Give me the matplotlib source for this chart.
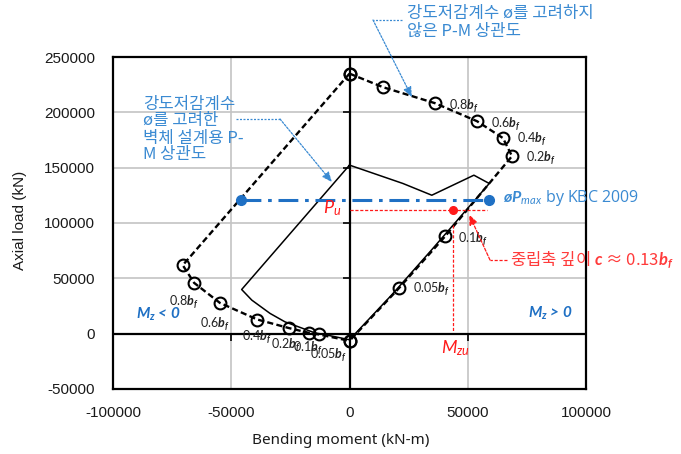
import numpy as np
import matplotlib
matplotlib.use("Agg")
import matplotlib.pyplot as plt
from matplotlib.lines import Line2D

plt.rcParams['mathtext.fontset'] = 'custom'
plt.rcParams['mathtext.rm'] = 'Lato'
plt.rcParams['mathtext.it'] = 'Lato:italic'
plt.rcParams['mathtext.bf'] = 'Lato:bold'
plt.rcParams['mathtext.bfit'] = 'Lato:italic:bold'
plt.rcParams['axes.unicode_minus'] = False

# ---- data -------------------------------------------------------------
# nominal P-M interaction curve (no strength reduction), Po -> pure tension
pos_M = [0, 14200, 36100, 53900, 64900, 68700, 40400, 20900, 0]
pos_P = [235000, 222700, 208300, 192000, 176700, 160400, 87900, 41100, -6500]
neg_M = [0, -70500, -65700, -54800, -39000, -25500, -17100, -12900, 0]
neg_P = [235000, 61900, 45900, 27800, 12800, 5000, 700, -700, -6500]
# neutral-axis depth labels for points 2..7 on each branch
depth_labels = ["0.8", "0.6", "0.4", "0.2", "0.1", "0.05"]

# design interaction curve (with strength reduction factor)
design_M = [0, 22600, 34800, 52600, 59100, 34300, 17800, 0,
            -11000, -14500, -27300, -33600, -41300, -45600, 0]
design_P = [152300, 135700, 125100, 143200, 135700, 74700, 34900, -5500,
            -600, 600, 10700, 18300, 30300, 39900, 152300]

# phi*Pmax by KBC 2009
phi_pmax = 121200
phi_pmax_M = [-45900, 59000]

# factored load point
Mzu = 43600
Pu = 111500
pu_guide_M = [0, 58000]
mzu_guide_P = [98000, 2000]

xticks = [-100000, -50000, 0, 50000, 100000]
yticks = [-50000, 0, 50000, 100000, 150000, 200000, 250000]

# ---- figure -----------------------------------------------------------
W, H = 681, 454
fig = plt.figure(figsize=(W / 100, H / 100), dpi=100)
L, R, T, B = 113, 586, 57, 389
ax = fig.add_axes([L / W, 1 - B / H, (R - L) / W, (B - T) / H])
ax.set_xlim(-100000, 100000)
ax.set_ylim(-50000, 250000)

def fpx(x, y):
    """figure-pixel position measured from the top-left corner"""
    return (x / W, 1 - y / H)

KR = ['Noto Sans CJK KR', 'DejaVu Sans']
BLUE_TXT = '#3a8ad2'
BLUE = '#1f70c4'
RED = '#ff1a1a'
RED_TXT = '#ff3b3b'

# grid, frame, zero axes
ax.set_xticks(xticks)
ax.set_yticks(yticks)
ax.grid(True, color='#c4c4c4', lw=1.2, zorder=0)
ax.set_axisbelow(True)
for s in ax.spines.values():
    s.set_linewidth(1.6)
    s.set_color('black')
ax.tick_params(length=0, labelsize=11, colors='#1a1a1a')
ax.tick_params(axis='x', pad=12)
ax.tick_params(axis='y', pad=13)
for lab in ax.get_xticklabels() + ax.get_yticklabels():
    lab.set_family('Liberation Sans')
ax.axhline(0, color='black', lw=1.6, zorder=1)
ax.axvline(0, color='black', lw=1.6, zorder=1)
ax.plot(np.zeros(len(yticks)), yticks, ls='none', marker=0, ms=5, mew=1.2,
        color='black', clip_on=False, zorder=1)
ax.plot(xticks, np.zeros(len(xticks)), ls='none', marker=3, ms=5, mew=1.2,
        color='black', clip_on=False, zorder=1)

ax.set_xlabel('Bending moment (kN-m)', fontsize=11, family='Noto Sans', color='#1a1a1a')
ax.xaxis.set_label_coords((341 - L) / (R - L), (B - 440) / (B - T))
ax.xaxis.label.set_va('center')
ax.set_ylabel('Axial load (kN)', fontsize=11, family='Liberation Sans', color='#1a1a1a')
ax.yaxis.set_label_coords((20 - L) / (R - L), (B - 220) / (B - T))
ax.yaxis.label.set_va('center')

# design curve
ax.plot(design_M, design_P, color='black', lw=1.1, zorder=3)

# nominal curve with open circles
for M, P in ((pos_M, pos_P), (neg_M, neg_P)):
    ax.plot(M, P, color='black', lw=1.7, dashes=(2.6, 1.4), marker='o', ms=8.5,
            mfc='none', mec='black', mew=1.5, zorder=4)

pos_off = [(14, -3), (14, -2), (14, -1), (14, -1), (13, -2), (14, 0)]
neg_off = [(-25, -19), (-20, -21), (-15, -17), (-18, -17), (-16, -15), (-9, -20)]
for i, lab in enumerate(depth_labels):
    txt = lab + r'$\mathbfit{b}_{\mathbfit{f}}$'
    ax.annotate(txt, (pos_M[i + 2], pos_P[i + 2]), xytext=pos_off[i],
                textcoords='offset pixels', ha='left', va='center',
                fontsize=9, family='Lato', color='#222222', zorder=6)
    ax.annotate(txt, (neg_M[i + 2], neg_P[i + 2]), xytext=neg_off[i],
                textcoords='offset pixels', ha='left', va='center',
                fontsize=9, family='Lato', color='#222222', zorder=6)

# phi*Pmax line
ax.plot(phi_pmax_M, [phi_pmax, phi_pmax], color=BLUE, lw=2.2,
        dashes=(6.5, 2.2, 1.2, 2.2), zorder=5)
ax.plot(phi_pmax_M, [phi_pmax, phi_pmax], ls='none', marker='o', ms=7,
        color=BLUE, zorder=5)
fig.text(*fpx(503, 198), r'$\mathbfit{øP}_{\mathit{max}}$ by KBC 2009',
         fontsize=11.5, family='Open Sans', color=BLUE_TXT, ha='left', va='center')

# factored load and guides
ax.plot(pu_guide_M, [Pu, Pu], color=RED, lw=0.9, dashes=(2.5, 1.4), zorder=5)
ax.plot([Mzu, Mzu], mzu_guide_P, color=RED, lw=0.9, dashes=(2.5, 1.4), zorder=5)
ax.plot([Mzu], [Pu], ls='none', marker='o', ms=5.5, color=RED, zorder=6)
fig.text(*fpx(332, 208), r'$\mathit{P_u}$', fontsize=13, family='Lato',
         color=RED, ha='center', va='center')
fig.text(*fpx(456, 348), r'$\mathit{M_{zu}}$', fontsize=13, family='Lato',
         color=RED, ha='center', va='center')

# moment sign labels
fig.text(*fpx(136, 314), r'$\mathbfit{M}_{\mathbfit{z}}$ < 0', fontsize=11,
         family='Lato', weight='bold', style='italic', color=BLUE, ha='left', va='center')
fig.text(*fpx(528, 313), r'$\mathbfit{M}_{\mathbfit{z}}$ > 0', fontsize=11,
         family='Lato', weight='bold', style='italic', color=BLUE, ha='left', va='center')

# callouts: a short horizontal leader from the text, then an arrow to the curve
def callout(start, elbow, tip_data, color, ls):
    sx, sy = start
    ex, ey = elbow
    fig.add_artist(Line2D([sx / W, ex / W], [1 - sy / H, 1 - ey / H],
                          transform=fig.transFigure, color=color, lw=0.9, ls=ls))
    ax.annotate('', xy=tip_data, xytext=(ex, H - ey), textcoords='figure pixels',
                annotation_clip=False,
                arrowprops=dict(arrowstyle='-|>,head_length=0.6,head_width=0.25',
                                color=color, lw=0.9, ls=ls, shrinkA=0, shrinkB=0),
                zorder=7)

callout((402, 20), (373, 20), (26400, 213700), BLUE_TXT, (0, (1.6, 1.2)))
fig.text(*fpx(407, 22.5), '강도저감계수 ø를 고려하지\n않은 P-M 상관도', fontsize=12,
         family=KR, color=BLUE_TXT, ha='left', va='center', linespacing=1.05)

callout((236, 119), (280, 119), (-7400, 136900), BLUE_TXT, (0, (1.6, 1.2)))
fig.text(*fpx(143, 129.5), '강도저감계수\nø를 고려한\n벽체 설계용 P-\nM 상관도', fontsize=12,
         family=KR, color=BLUE_TXT, ha='left', va='center', linespacing=1.0)

callout((507, 260), (490, 260), (50600, 107600), RED, (0, (2.5, 1.4)))
fig.text(*fpx(510, 260),
         '중립축 깊이 $\\mathbfit{c}$ ≈ 0.13$\\mathbfit{b}_{\\mathbfit{f}}$',
         fontsize=12, family=KR, color=RED_TXT, ha='left', va='center')

fig.savefig('out.png', dpi=100)
